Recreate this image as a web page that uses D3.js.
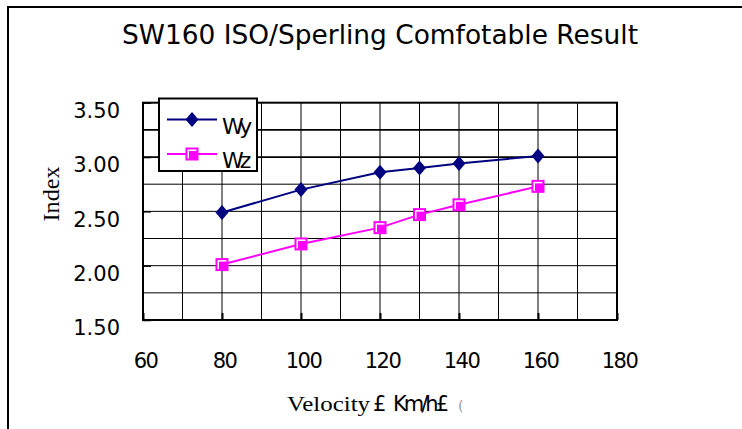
<!DOCTYPE html>
<html lang="en">
  <head>
    <meta charset="UTF-8" />
    <title>SW160 ISO/Sperling Comfotable Result</title>
    <script src="https://d3js.org/d3.v7.min.js"></script>
    <style>
      body {
        margin: 0;
        background: #fff;
      }
      .grid line {
        stroke: #000;
        stroke-width: 1px;
      }
    </style>
  </head>
  <body>
    <svg id="chart" width="742" height="429"></svg>

    <script>
      // chart data
      const velocity = [80, 100, 120, 130, 140, 160];
      const wy = [2.49, 2.7, 2.86, 2.9, 2.94, 3.01];
      const wz = [2.01, 2.2, 2.35, 2.47, 2.56, 2.73];
      const seriesNames = ["Wy", "Wz"];
      const xTicks = [60, 80, 100, 120, 140, 160, 180];
      const yTicks = [1.5, 2.0, 2.5, 3.0, 3.5];
      const xGrid = [70, 80, 90, 100, 110, 120, 130, 140, 150, 160, 170];
      const yGrid = [1.75, 2.0, 2.25, 2.5, 2.75, 3.0, 3.25];

      const navy = "#000080";
      const magenta = "#ff00ff";
      const sans = "'DejaVu Sans', Verdana, sans-serif";
      const serif = "'Liberation Serif', 'Times New Roman', serif";

      const svg = d3.select("#chart");

      // outer chart frame (runs off right/bottom edge like the original)
      svg
        .append("rect")
        .attr("x", 8)
        .attr("y", 7)
        .attr("width", 760)
        .attr("height", 440)
        .attr("fill", "#fff")
        .attr("stroke", "#000")
        .attr("stroke-width", 2);

      const margin = { top: 102.7, right: 125, bottom: 109, left: 143 };
      const width = +svg.attr("width") - margin.left - margin.right;
      const height = +svg.attr("height") - margin.top - margin.bottom;

      const x = d3
        .scaleLinear()
        .domain([60, 180])
        .range([margin.left, margin.left + width]);
      const y = d3
        .scaleLinear()
        .domain([1.5, 3.5])
        .range([margin.top + height, margin.top]);

      // title
      svg
        .append("text")
        .attr("x", 380)
        .attr("y", 43.5)
        .attr("text-anchor", "middle")
        .attr("textLength", 516)
        .attr("lengthAdjust", "spacingAndGlyphs")
        .style("font-family", sans)
        .style("font-size", "26px")
        .text("SW160 ISO/Sperling Comfotable Result");

      // grid
      const grid = svg.append("g").attr("class", "grid");
      grid
        .selectAll("line.v")
        .data(xGrid)
        .join("line")
        .attr("class", "v")
        .attr("x1", (d) => x(d))
        .attr("x2", (d) => x(d))
        .attr("y1", y(1.5))
        .attr("y2", y(3.5));
      grid
        .selectAll("line.h")
        .data(yGrid)
        .join("line")
        .attr("class", "h")
        .attr("x1", x(60))
        .attr("x2", x(180))
        .attr("y1", (d) => y(d))
        .attr("y2", (d) => y(d))
        .style("stroke-width", (d) => (d >= 3 ? 1.8 : 1));

      // small inner tick marks at the major values
      svg
        .append("g")
        .attr("transform", `translate(0,${y(1.5)})`)
        .call(d3.axisTop(x).tickValues(xTicks).tickSize(7).tickFormat(""))
        .call((g) => g.select(".domain").remove())
        .call((g) => g.selectAll("line").attr("stroke-width", 2));
      svg
        .append("g")
        .attr("transform", `translate(${x(60)},0)`)
        .call(d3.axisRight(y).tickValues(yTicks).tickSize(8).tickFormat(""))
        .call((g) => g.select(".domain").remove())
        .call((g) => g.selectAll("line").attr("stroke-width", 1.5));

      // plot frame
      svg
        .append("rect")
        .attr("x", x(60))
        .attr("y", y(3.5))
        .attr("width", x(180) - x(60))
        .attr("height", y(1.5) - y(3.5))
        .attr("fill", "none")
        .attr("stroke", "#000")
        .attr("stroke-width", 2);

      // axes labels
      const xAxis = svg
        .append("g")
        .attr("transform", `translate(0,${y(1.5)})`)
        .call(
          d3
            .axisBottom(x)
            .tickValues(xTicks)
            .tickSize(0)
            .tickPadding(33)
            .tickFormat(d3.format("d"))
        );
      xAxis.select(".domain").remove();
      xAxis
        .selectAll("text")
        .attr("dx", 2)
        .attr("fill", "#000")
        .style("font-family", sans)
        .style("font-size", "21px")
        .attr("letter-spacing", -1.5);

      const yAxis = svg
        .append("g")
        .attr("transform", `translate(${x(60)},0)`)
        .call(
          d3
            .axisLeft(y)
            .tickValues(yTicks)
            .tickSize(0)
            .tickPadding(23)
            .tickFormat(d3.format(".2f"))
        );
      yAxis.select(".domain").remove();
      yAxis
        .selectAll("text")
        .attr("dy", "0.7em")
        .attr("fill", "#000")
        .style("font-family", sans)
        .style("font-size", "21px");

      // axis titles
      svg
        .append("text")
        .attr("transform", "translate(59,194) rotate(-90)")
        .attr("text-anchor", "middle")
        .attr("textLength", 55)
        .attr("lengthAdjust", "spacingAndGlyphs")
        .style("font-family", serif)
        .style("font-size", "23px")
        .text("Index");

      const xTitle = svg
        .append("text")
        .attr("y", 411)
        .attr("x", 287)
        .style("font-size", "21px");
      xTitle
        .append("tspan")
        .style("font-family", serif)
        .attr("textLength", 83)
        .attr("lengthAdjust", "spacingAndGlyphs")
        .text("Velocity");
      xTitle
        .append("tspan")
        .style("font-family", sans)
        .attr("dx", 3)
        .text("£ ");
      xTitle
        .append("tspan")
        .style("font-family", sans)
        .attr("letter-spacing", -3)
        .text("Km/h£");
      xTitle
        .append("tspan")
        .attr("dx", 12)
        .style("font-family", sans)
        .style("font-size", "14px")
        .attr("fill", "#999")
        .text("(");

      // series
      const pts = (vals) => velocity.map((v, i) => ({ v: v, val: vals[i] }));
      const line = d3
        .line()
        .x((d) => x(d.v))
        .y((d) => y(d.val));

      svg
        .append("path")
        .datum(pts(wy))
        .attr("fill", "none")
        .attr("stroke", navy)
        .attr("stroke-width", 2)
        .attr("d", line);
      svg
        .append("path")
        .datum(pts(wz))
        .attr("fill", "none")
        .attr("stroke", magenta)
        .attr("stroke-width", 2)
        .attr("d", line);

      const diamond = (sel) =>
        sel
          .append("path")
          .attr("d", "M0,-7.5L6.5,0L0,7.5L-6.5,0Z")
          .attr("fill", navy);
      const square = (sel) => {
        sel
          .append("rect")
          .attr("x", -5.5)
          .attr("y", -5.5)
          .attr("width", 11)
          .attr("height", 11)
          .attr("fill", "#fff")
          .attr("stroke", magenta)
          .attr("stroke-width", 2);
        sel
          .append("rect")
          .attr("x", -3)
          .attr("y", -3)
          .attr("width", 8)
          .attr("height", 8)
          .attr("fill", magenta);
      };

      svg
        .selectAll("g.wy")
        .data(pts(wy))
        .join("g")
        .attr("class", "wy")
        .attr("transform", (d) => `translate(${x(d.v)},${y(d.val)})`)
        .call(diamond);
      svg
        .selectAll("g.wz")
        .data(pts(wz))
        .join("g")
        .attr("class", "wz")
        .attr("transform", (d) => `translate(${x(d.v)},${y(d.val)})`)
        .call(square);

      // legend
      const legend = svg.append("g").attr("transform", "translate(159,98.5)");
      legend
        .append("rect")
        .attr("width", 98)
        .attr("height", 72.5)
        .attr("fill", "#fff")
        .attr("stroke", "#000")
        .attr("stroke-width", 2);
      const items = legend
        .selectAll("g.item")
        .data(seriesNames)
        .join("g")
        .attr("class", "item")
        .attr("transform", (d, i) => `translate(0,${i === 0 ? 21 : 55.5})`);
      items
        .append("line")
        .attr("x1", 8)
        .attr("x2", 58)
        .attr("stroke", (d, i) => (i === 0 ? navy : magenta))
        .attr("stroke-width", 2);
      items.each(function (d, i) {
        const g = d3.select(this).append("g").attr("transform", "translate(33,0)");
        if (i === 0) diamond(g);
        else square(g);
      });
      items
        .append("text")
        .attr("x", 63)
        .attr("y", 14)
        .attr("letter-spacing", -4)
        .style("font-family", sans)
        .style("font-size", "22px")
        .text((d) => d);
    </script>
  </body>
</html>
